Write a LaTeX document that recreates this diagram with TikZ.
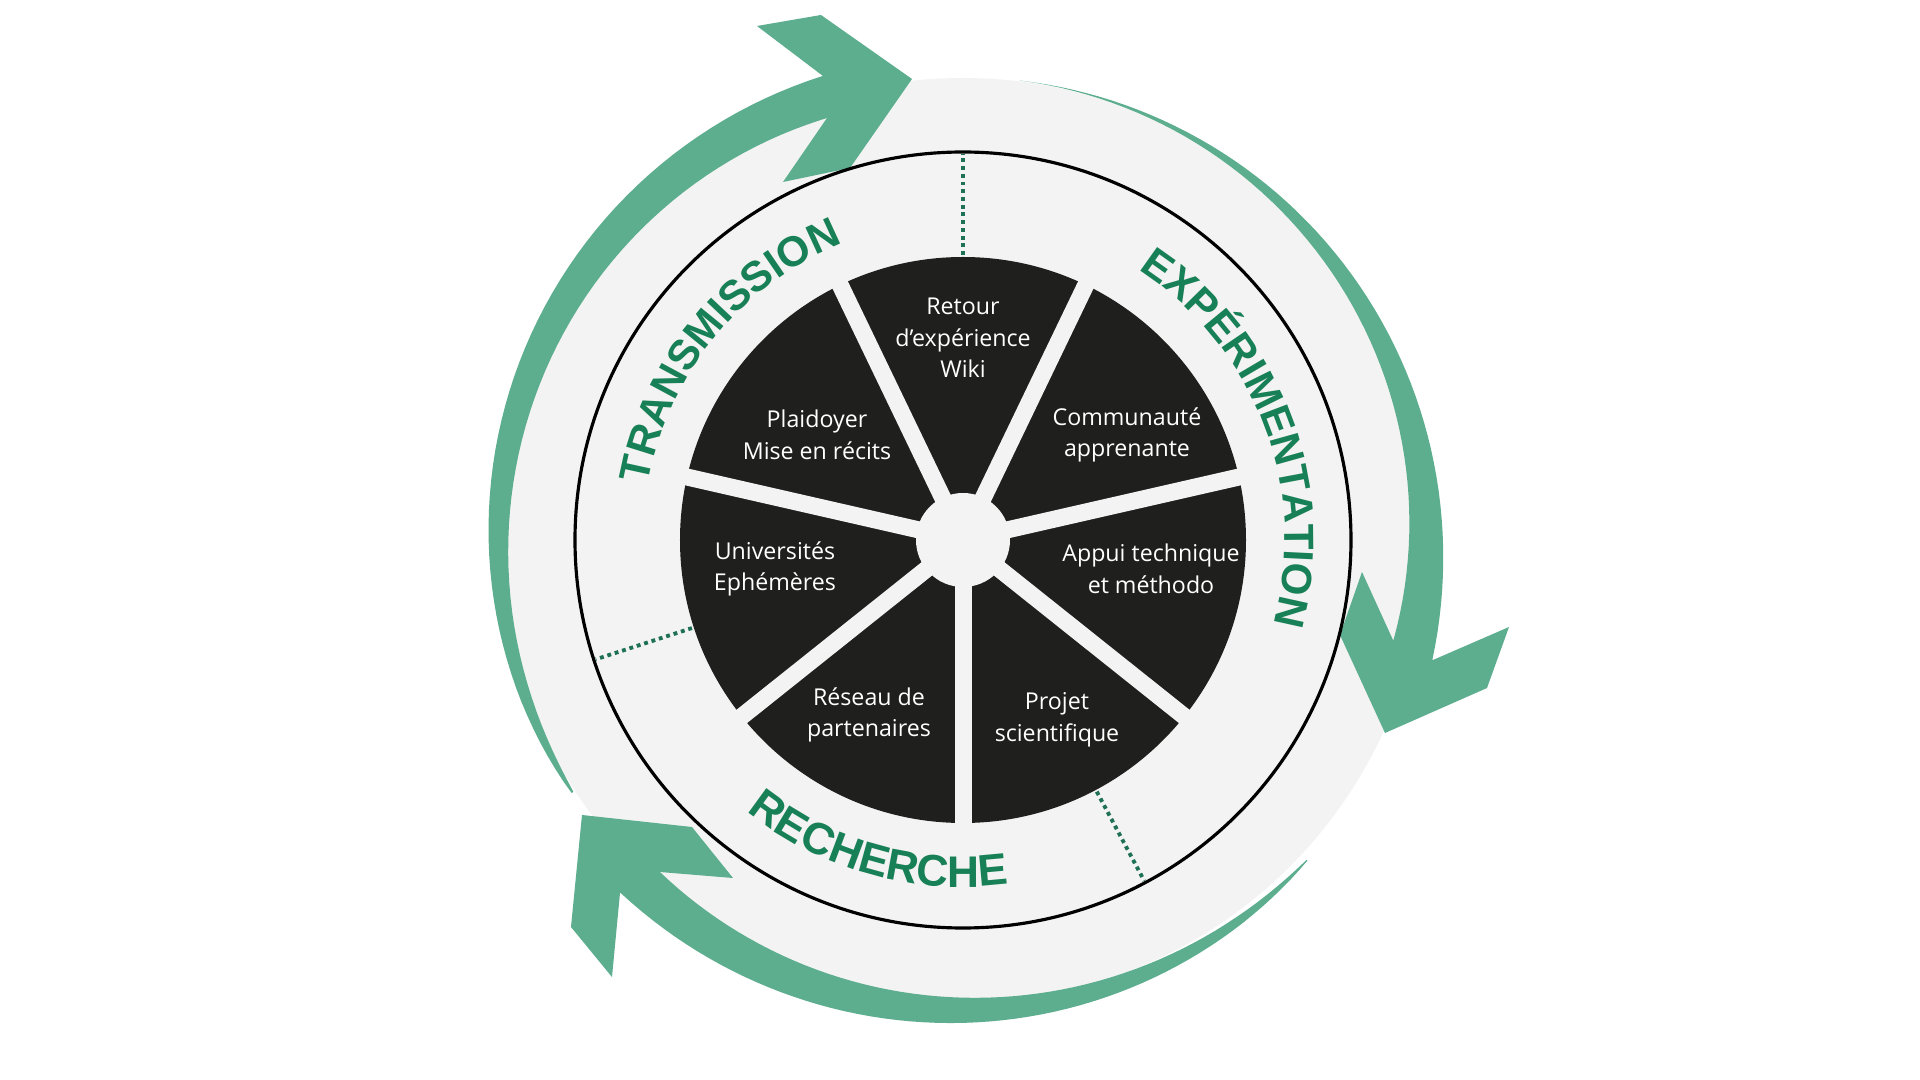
\documentclass[tikz,border=0pt]{standalone}
\usepackage{fontspec}
\newfontfamily\segfont{Open Sans}
\newfontfamily\ringfont{Liberation Sans}
\usetikzlibrary{decorations.text}

\definecolor{ringgray}{RGB}{243,243,243}
\definecolor{wheelblack}{RGB}{31,31,30}
\definecolor{arrowgreen}{RGB}{92,174,142}
\definecolor{labelgreen}{RGB}{24,128,86}
\definecolor{dotgreen}{RGB}{30,112,86}

\begin{document}
\begin{tikzpicture}[
  seg/.style={font=\segfont\fontsize{6.6}{9}\selectfont, text=white, align=center, inner sep=0pt},
  spoke/.style={draw=ringgray, line width=0.17cm},
  sepline/.style={draw=dotgreen, line width=1.1pt, dash pattern=on 1.1pt off 1.1pt},
  ringtext/.style n args={2}{decorate, decoration={text along path, text align=center, text color=labelgreen,
                   text={|\ringfont\bfseries\fontsize{#2}{#2}\selectfont|#1}}}]

  % page frame, centre of the wheel at the origin
  \useasboundingbox (-9.63,-5.40) rectangle (9.57,5.40);
  \fill[white] (-9.63,-5.40) rectangle (9.57,5.40);

  % light ring
  \fill[ringgray] (0,0) circle (4.62);

  % arrow bodies: tail angle / head angle / mid radius / outer growth / inner growth / taper
  \foreach \ta/\tb/\rm/\ro/\ri/\tp in {214/105/4.65/0.20/0.22/0.65, 84/-16/4.63/0.22/0.22/1.5,
                                       318/224.5/4.70/0.22/0.21/0.8}{
    \fill[arrowgreen] plot[domain=0.01:1, samples=60] ({\ta+(\tb-\ta)*\x}:{\rm+\ro*pow(\x,\tp)})
      -- plot[domain=1:0.01, samples=60] ({\ta+(\tb-\ta)*\x}:{\rm-\ri*pow(\x,\tp)}) -- cycle;
  }

  % arrow heads
  \fill[arrowgreen] (-2.06,5.14) -- (-1.42,5.25) -- (-0.51,4.61) -- (-1.13,3.72) -- (-1.80,3.58)
    -- (-1.36,4.22) -- (-1.40,4.64) -- cycle;
  \fill[arrowgreen] (4.30,-1.00) -- (3.99,-0.32) -- (3.77,-0.95) -- (4.22,-1.93) -- (5.24,-1.48)
    -- (5.46,-0.87) -- (4.70,-1.20) -- cycle;
  \fill[arrowgreen] (-3.81,-2.75) -- (-2.71,-2.87) -- (-2.30,-3.38) -- (-3.03,-3.32) -- (-3.43,-3.53)
    -- (-3.51,-4.37) -- (-3.92,-3.87) -- cycle;

  % inner circle
  \draw[line width=0.9pt] (0,0) circle (3.88);

  % wheel with seven spokes
  \fill[wheelblack] (0,0) circle (2.83);
  \foreach \k in {0,...,6}
    \draw[spoke] (0,0) -- ({-90+\k*360/7}:2.95);
  \fill[ringgray] (0,0) circle (0.47);

  % dotted separators
  \foreach \a in {90,198,298}
    \draw[sepline] (\a:2.85) -- (\a:3.86);

  % segment labels
  \node[seg] (retour) at (0,2.02) {Retour\\d’expérience\\Wiki};
  \node[seg] (plaidoyer) at (-1.46,1.05) {Plaidoyer\\Mise en récits};
  \node[seg] (communaute) at (1.64,1.05) {Communauté\\apprenante};
  \node[seg] (universites) at (-1.88,-0.29) {Universités\\Ephémères};
  \node[seg] (appui) at (1.88,-0.29) {Appui technique\\et méthodo};
  \node[seg] (reseau) at (-0.94,-1.75) {Réseau de\\partenaires};
  \node[seg] (projet) at (0.94,-1.80) {Projet\\scientifique};

  % ring labels
  \path[ringtext={TRANSMISSION}{12}] (182:3.20) arc[start angle=182, end angle=100, radius=3.20];
  \path[ringtext={EXPÉRIMENTATION}{12}] (66:3.22) arc[start angle=66, end angle=-24, radius=3.22];
  \path[ringtext={RECHERCHE}{12.6}] (226:3.47) arc[start angle=226, end angle=283, radius=3.47];

\end{tikzpicture}
\end{document}
